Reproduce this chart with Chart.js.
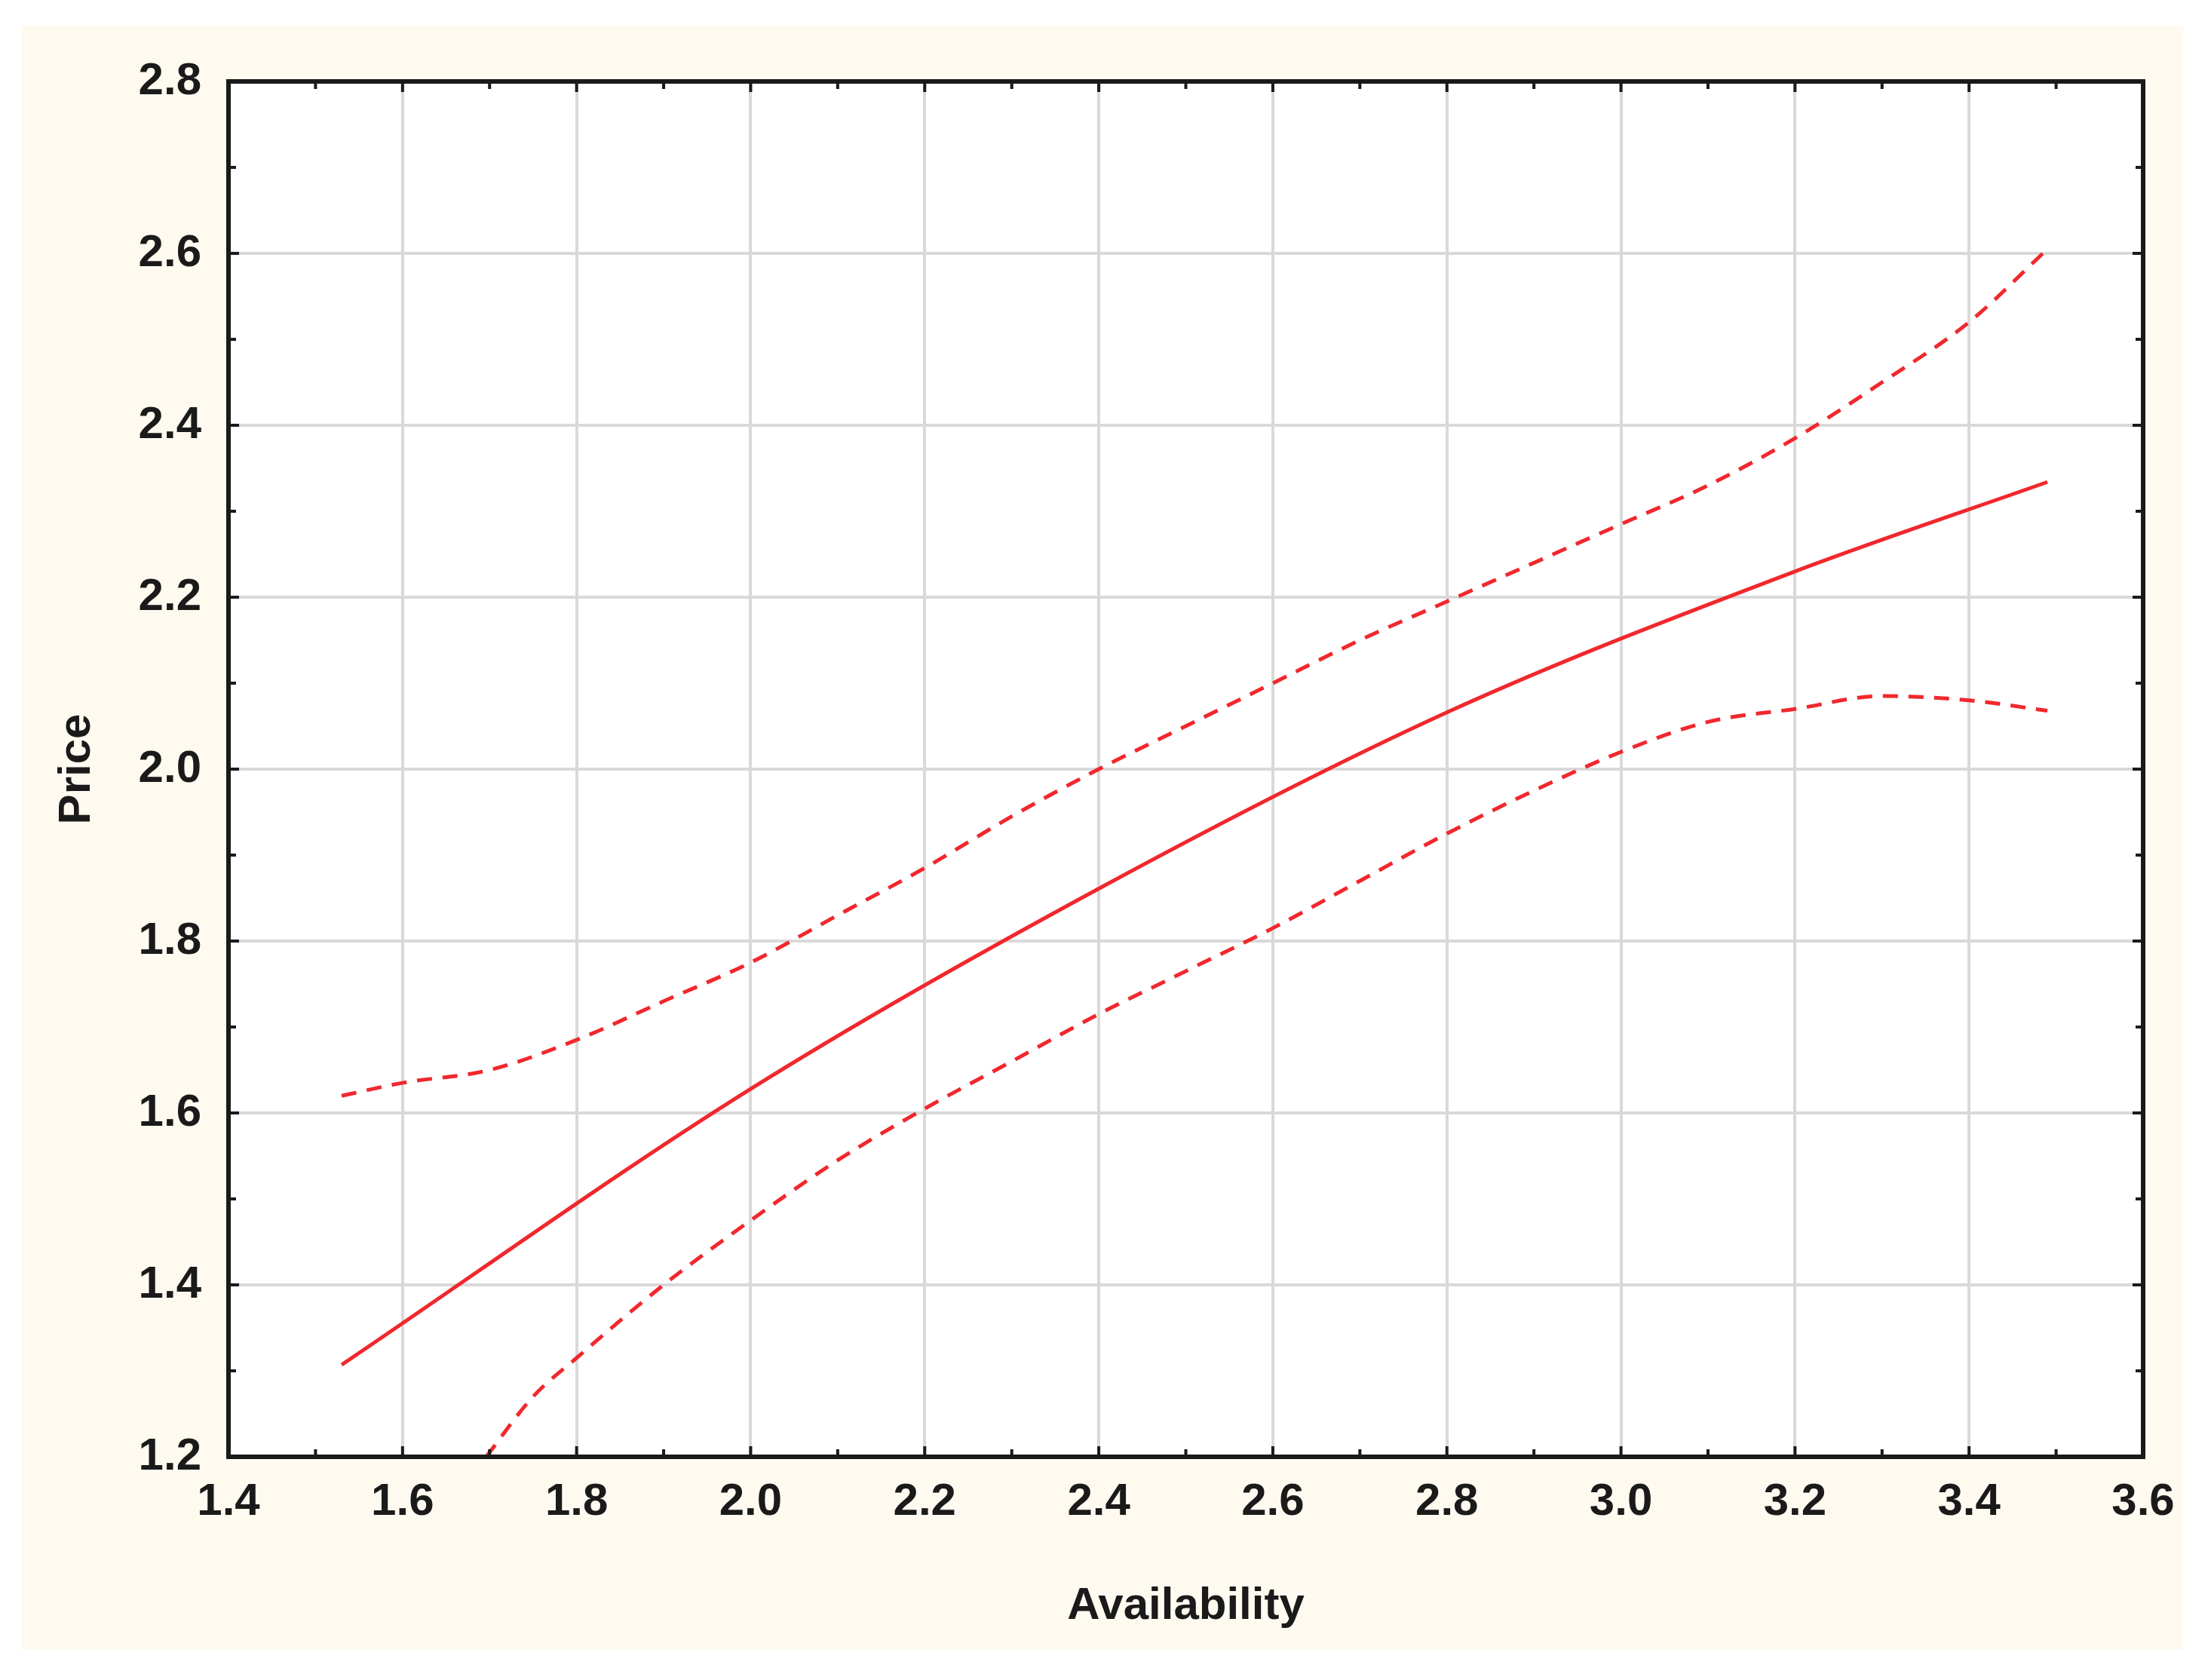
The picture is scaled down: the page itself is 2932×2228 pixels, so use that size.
<!DOCTYPE html>
<html>
<head>
<meta charset="utf-8">
<script src="https://cdn.jsdelivr.net/npm/chart.js@4.4.1/dist/chart.umd.min.js"></script>
<style>
  html, body { margin: 0; padding: 0; background: #fff; }
  #wrap { width: 2932px; height: 2228px; }
</style>
</head>
<body>
<div id="wrap"><canvas id="c"></canvas></div>
<script>
const fitX = [ 1.53, 2.0, 2.4, 2.8, 3.2, 3.49 ]
const fitY = [ 1.307, 1.628, 1.861, 2.066, 2.23, 2.334 ]

const upperX = [ 1.53, 1.6, 1.7, 1.8, 1.9, 2.0, 2.1, 2.2, 2.3, 2.4, 2.5, 2.6, 2.7, 2.8, 2.9, 3.0, 3.1, 3.2, 3.3, 3.4, 3.49 ]
const upperY = [ 1.62, 1.635, 1.65, 1.685, 1.73, 1.775, 1.83, 1.885, 1.945, 2.0, 2.05, 2.1, 2.15, 2.195, 2.24, 2.285, 2.33, 2.385, 2.45, 2.52, 2.605 ]

const lowerX = [ 1.696, 1.75, 1.8, 1.9, 2.0, 2.1, 2.2, 2.3, 2.4, 2.5, 2.6, 2.7, 2.8, 2.9, 3.0, 3.1, 3.2, 3.3, 3.4, 3.49 ]
const lowerY = [ 1.2, 1.27, 1.315, 1.4, 1.475, 1.545, 1.605, 1.66, 1.715, 1.765, 1.815, 1.87, 1.925, 1.975, 2.02, 2.055, 2.07, 2.085, 2.08, 2.068 ]

const xMin = 1.4, xMax = 3.6
const yMin = 1.2, yMax = 2.8

const pts = ( xs, ys ) => xs.map( ( x, i ) => ( { x: x, y: ys[ i ] } ) )
const isMajor = v => Math.abs( Math.round( v * 5 ) - v * 5 ) < 1e-6
const red = '#f0282d'
const font = { family: 'Liberation Sans', size: 60, weight: 'bold' }

// cream panel, frame and inward tick marks
const frame = {
    id: 'frame',
    beforeDraw ( chart ) {
        const c = chart.ctx
        c.save()
        c.fillStyle = '#ffffff'
        c.fillRect( 0, 0, chart.width, chart.height )
        c.fillStyle = '#fffaf0'
        c.fillRect( 28, 34, 2867, 2154 )
        const a = chart.chartArea
        c.fillStyle = '#ffffff'
        c.fillRect( a.left, a.top, a.right - a.left, a.bottom - a.top )
        c.restore()
    },
    afterDraw ( chart ) {
        const c = chart.ctx, a = chart.chartArea
        const sx = chart.scales.x, sy = chart.scales.y
        c.save()
        c.strokeStyle = '#1a1a1a'
        c.lineWidth = 6
        c.strokeRect( a.left, a.top, a.right - a.left, a.bottom - a.top )
        c.lineWidth = 4
        for ( let v = xMin; v <= xMax + 1e-9; v += 0.1 ) {
            const px = sx.getPixelForValue( v ), len = isMajor( v ) ? 14 : 10
            c.beginPath()
            c.moveTo( px, a.bottom ); c.lineTo( px, a.bottom - len )
            c.moveTo( px, a.top ); c.lineTo( px, a.top + len )
            c.stroke()
        }
        for ( let v = yMin; v <= yMax + 1e-9; v += 0.1 ) {
            const py = sy.getPixelForValue( v ), len = isMajor( v ) ? 14 : 10
            c.beginPath()
            c.moveTo( a.left, py ); c.lineTo( a.left + len, py )
            c.moveTo( a.right, py ); c.lineTo( a.right - len, py )
            c.stroke()
        }
        c.restore()
    }
}

new Chart( document.getElementById( 'c' ), {
    type: 'scatter',
    data: {
        datasets: [
            { data: pts( fitX, fitY ), showLine: true, borderColor: red, borderWidth: 5, pointRadius: 0, cubicInterpolationMode: 'monotone' },
            { data: pts( upperX, upperY ), showLine: true, borderColor: red, borderWidth: 5, borderDash: [ 20, 14 ], pointRadius: 0, cubicInterpolationMode: 'monotone' },
            { data: pts( lowerX, lowerY ), showLine: true, borderColor: red, borderWidth: 5, borderDash: [ 20, 14 ], pointRadius: 0, cubicInterpolationMode: 'monotone' }
        ]
    },
    options: {
        responsive: true,
        maintainAspectRatio: false,
        animation: false,
        events: [],
        layout: { padding: { left: 0, top: 108, right: 90, bottom: 0 } },
        plugins: { legend: { display: false }, tooltip: { enabled: false } },
        scales: {
            x: {
                type: 'linear', min: xMin, max: xMax,
                afterFit: s => { s.height = 296 },
                grid: { drawTicks: false, color: '#d9d9d9', lineWidth: 4 },
                border: { display: false },
                ticks: { stepSize: 0.2, padding: 24, color: '#1a1a1a', font: font, callback: v => v.toFixed( 1 ) },
                title: { display: true, text: 'Availability', color: '#1a1a1a', font: font, padding: { top: 0, bottom: 62 } }
            },
            y: {
                type: 'linear', min: yMin, max: yMax,
                afterFit: s => { s.width = 303 },
                grid: { drawTicks: false, color: '#d9d9d9', lineWidth: 4 },
                border: { display: false },
                ticks: { stepSize: 0.2, padding: 36, color: '#1a1a1a', font: font, callback: v => v.toFixed( 1 ) },
                title: { display: true, text: 'Price', color: '#1a1a1a', font: font, padding: { top: 66, bottom: 0 } }
            }
        }
    },
    plugins: [ frame ]
} )
</script>
</body>
</html>
